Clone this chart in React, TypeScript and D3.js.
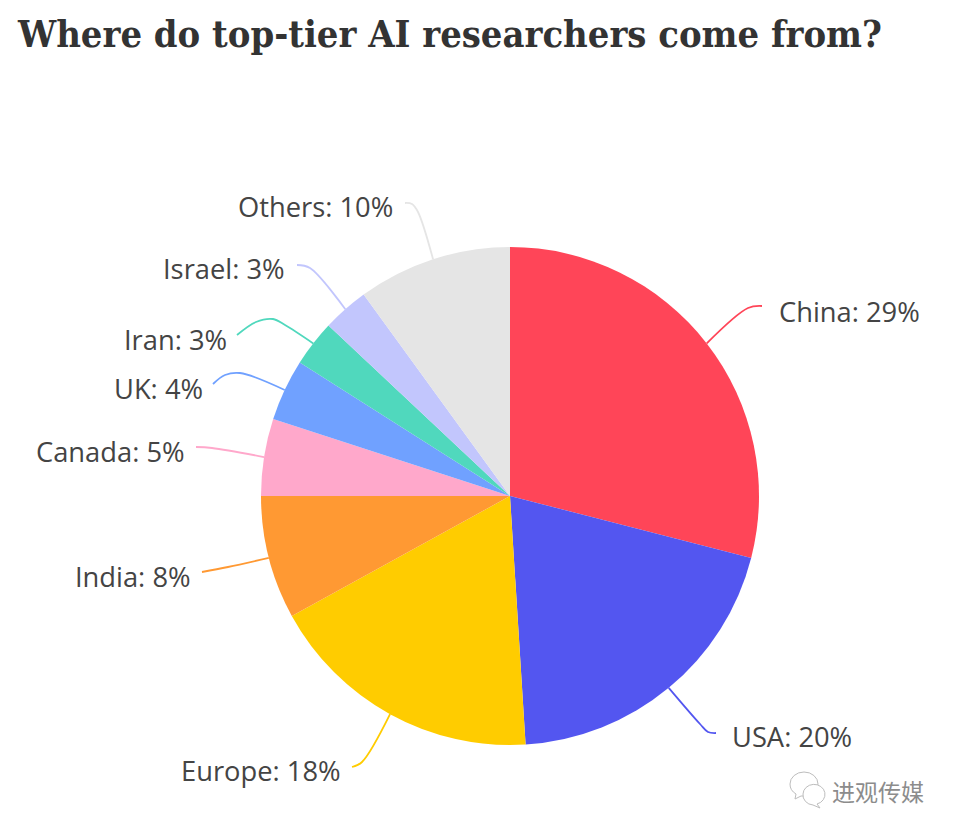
import React from "react";
import * as d3lib from "d3";

const categories = ["China", "USA", "Europe", "India", "Canada", "UK", "Iran", "Israel", "Others"];
const shares = [29, 20, 18, 8, 5, 4, 3, 3, 10];
const colors = ["#ff4558", "#5356f0", "#ffcc00", "#ff9933", "#ffa8cb", "#70a1ff", "#50d8bd", "#c2c6fd", "#e5e5e5"];
const titleText = "Where do top-tier AI researchers come from?";
const watermark = "进观传媒";

// Label layout (not data): text anchor, then connector waypoints out from the slice edge
const labelX = [779, 732, 181, 75, 36, 114, 124, 163, 238];
const labelY = [321.5, 746.5, 780.5, 586.5, 461.5, 398.5, 349.5, 279, 217];
const connectorVia: [number, number][][] = [
  [[748, 308], [762, 306]],
  [[700, 724], [708, 732], [716, 733]],
  [[362, 762], [352, 767]],
  [[228, 567], [202, 572]],
  [[212, 448], [196, 447]],
  [[240, 373], [225, 375], [213, 384]],
  [[285, 325], [273, 319], [256, 322], [237, 335]],
  [[310, 268], [297, 265]],
  [[418, 212], [412, 204], [405, 203]],
];

const cx = 510;
const cy = 496;
const radius = 249;

export default function App() {
  const pie = d3lib.pie<number>().sort(null).value((d) => d)(shares);
  const arc = d3lib.arc<d3lib.PieArcDatum<number>>().innerRadius(0).outerRadius(radius);
  const line = d3lib.line().curve(d3lib.curveCatmullRom.alpha(0.5));

  return (
    <svg
      width={954}
      height={834}
      viewBox="0 0 954 834"
      style={{ position: "absolute", left: 0, top: 0, background: "#fff" }}
    >
      <text
        x={18}
        y={47}
        fontFamily="'DejaVu Serif Condensed', 'DejaVu Serif', serif"
        fontWeight={700}
        fontSize={37}
        fill="#333333"
        textLength={864}
        lengthAdjust="spacingAndGlyphs"
      >
        {titleText}
      </text>

      <g transform={`translate(${cx},${cy})`}>
        {pie.map((d, i) => (
          <path key={categories[i]} d={arc(d) ?? ""} fill={colors[i]} />
        ))}
      </g>

      {pie.map((d, i) => {
        const a = (d.startAngle + d.endAngle) / 2;
        const start: [number, number] = [cx + radius * Math.sin(a), cy - radius * Math.cos(a)];
        return (
          <path
            key={categories[i]}
            d={line([start, ...connectorVia[i]]) ?? ""}
            fill="none"
            stroke={colors[i]}
            strokeWidth={1.8}
          />
        );
      })}

      {categories.map((c, i) => (
        <text
          key={c}
          x={labelX[i]}
          y={labelY[i]}
          fontFamily="'Open Sans', sans-serif"
          fontSize={27.3}
          fill="#444444"
        >
          {`${c}: ${shares[i]}%`}
        </text>
      ))}

      <g fill="#fff" stroke="#bdbdbd" strokeWidth={1}>
        <path d="M 790 784 a 14 12 0 1 1 14 12 l -3 0 l -6 3 l 1 -5 a 14 12 0 0 1 -6 -10 z" />
        <path d="M 803 794 a 11 10 0 1 1 14 10 l 3 4 l -7 -3 a 11 10 0 0 1 -10 -11 z" />
      </g>
      <text
        x={832}
        y={801}
        fontFamily="'Noto Sans CJK SC', sans-serif"
        fontSize={23}
        fill="#8c8c8c"
      >
        {watermark}
      </text>
    </svg>
  );
}
